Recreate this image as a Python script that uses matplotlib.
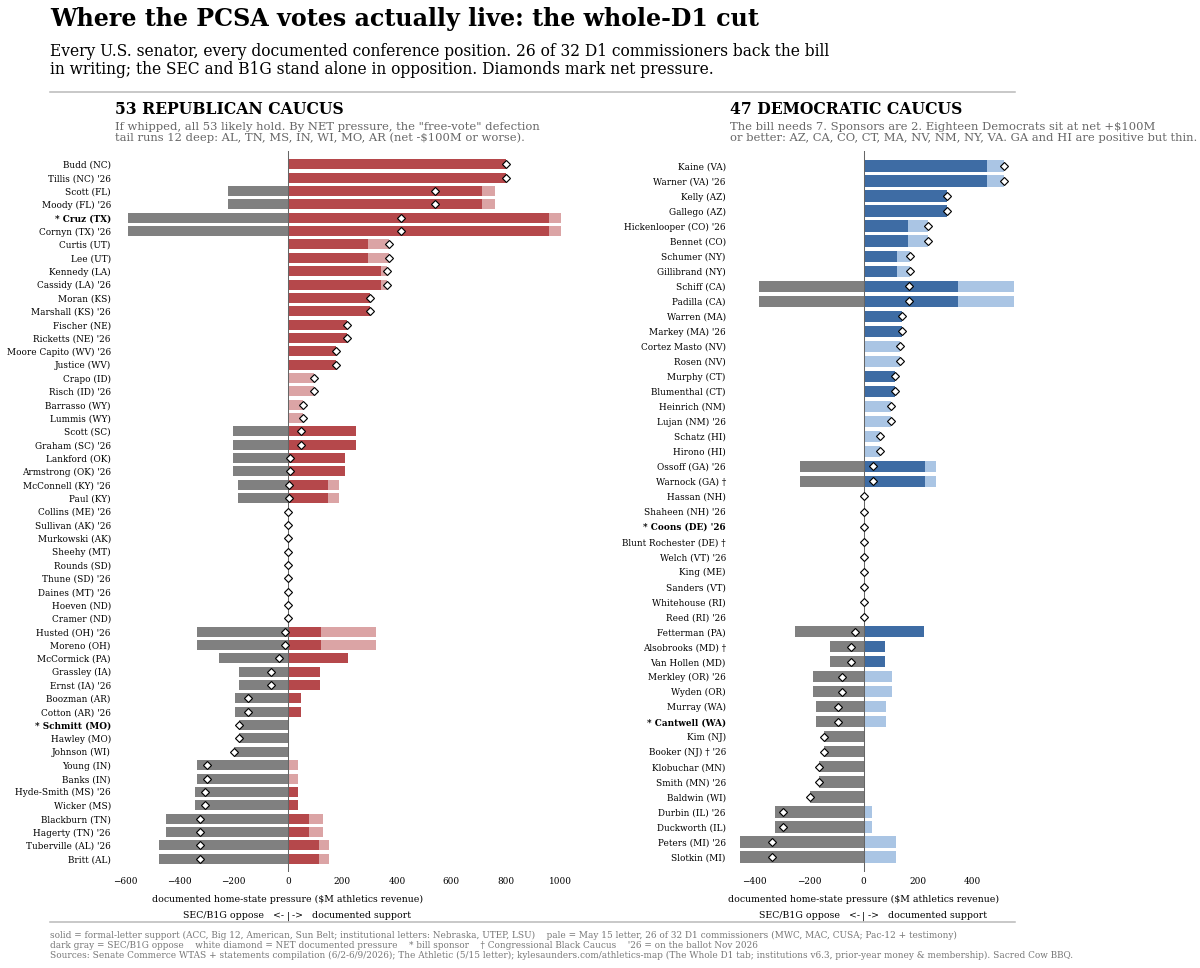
import matplotlib
matplotlib.use('Agg')
import matplotlib.pyplot as plt
import matplotlib.transforms as mtransforms
import numpy as np

plt.rcParams['font.family'] = ['DejaVu Serif']
plt.rcParams['axes.unicode_minus'] = True

# ---------------- data ----------------
rep_names = [
    "Budd (NC)", "Tillis (NC) '26", "Scott (FL)", "Moody (FL) '26", "* Cruz (TX)",
    "Cornyn (TX) '26", "Curtis (UT)", "Lee (UT)", "Kennedy (LA)", "Cassidy (LA) '26",
    "Moran (KS)", "Marshall (KS) '26", "Fischer (NE)", "Ricketts (NE) '26",
    "Moore Capito (WV) '26", "Justice (WV)", "Crapo (ID)", "Risch (ID) '26",
    "Barrasso (WY)", "Lummis (WY)", "Scott (SC)", "Graham (SC) '26", "Lankford (OK)",
    "Armstrong (OK) '26", "McConnell (KY) '26", "Paul (KY)", "Collins (ME) '26",
    "Sullivan (AK) '26", "Murkowski (AK)", "Sheehy (MT)", "Rounds (SD)", "Thune (SD) '26",
    "Daines (MT) '26", "Hoeven (ND)", "Cramer (ND)", "Husted (OH) '26", "Moreno (OH)",
    "McCormick (PA)", "Grassley (IA)", "Ernst (IA) '26", "Boozman (AR)", "Cotton (AR) '26",
    "* Schmitt (MO)", "Hawley (MO)", "Johnson (WI)", "Young (IN)", "Banks (IN)",
    "Hyde-Smith (MS) '26", "Wicker (MS)", "Blackburn (TN)", "Hagerty (TN) '26",
    "Tuberville (AL) '26", "Britt (AL)",
]
rep_oppose = [0, 0, 219, 219, 589, 589, 0, 0, 0, 0, 0, 0, 0, 0, 0, 0, 0, 0, 0, 0,
              203, 203, 204, 204, 184, 184, 0, 0, 0, 0, 0, 0, 0, 0, 0, 335, 335,
              255, 179, 179, 194, 194, 182, 182, 198, 333, 333, 342, 342, 449, 449,
              473, 473]
rep_solid = [803, 803, 712, 712, 961, 961, 294, 294, 343, 343, 300, 300, 215, 215,
             177, 177, 0, 0, 0, 0, 249, 249, 210, 210, 146, 146, 0, 0, 0, 0, 0, 0,
             0, 0, 0, 120, 120, 222, 118, 118, 46, 46, 0, 0, 0, 0, 0, 35, 35, 76, 76,
             114, 114]
rep_pale = [0, 0, 49, 49, 43, 43, 76, 76, 21, 21, 0, 0, 0, 0, 0, 0, 96, 96, 55, 55,
            0, 0, 0, 0, 42, 42, 0, 0, 0, 0, 0, 0, 0, 0, 0, 205, 205, 0, 0, 0, 0, 0,
            0, 0, 0, 35, 35, 0, 0, 51, 51, 35, 35]

dem_names = [
    "Kaine (VA)", "Warner (VA) '26", "Kelly (AZ)", "Gallego (AZ)",
    "Hickenlooper (CO) '26", "Bennet (CO)", "Schumer (NY)", "Gillibrand (NY)",
    "Schiff (CA)", "Padilla (CA)", "Warren (MA)", "Markey (MA) '26",
    "Cortez Masto (NV)", "Rosen (NV)", "Murphy (CT)", "Blumenthal (CT)",
    "Heinrich (NM)", "Lujan (NM) '26", "Schatz (HI)", "Hirono (HI)", "Ossoff (GA) '26",
    "Warnock (GA) \u2020", "Hassan (NH)", "Shaheen (NH) '26", "* Coons (DE) '26",
    "Blunt Rochester (DE) \u2020", "Welch (VT) '26", "King (ME)", "Sanders (VT)",
    "Whitehouse (RI)", "Reed (RI) '26", "Fetterman (PA)", "Alsobrooks (MD) \u2020",
    "Van Hollen (MD)", "Merkley (OR) '26", "Wyden (OR)", "Murray (WA)",
    "* Cantwell (WA)", "Kim (NJ)", "Booker (NJ) \u2020 '26", "Klobuchar (MN)",
    "Smith (MN) '26", "Baldwin (WI)", "Durbin (IL) '26", "Duckworth (IL)",
    "Peters (MI) '26", "Slotkin (MI)",
]
dem_oppose = [0, 0, 0, 0, 0, 0, 0, 0, 385, 385, 0, 0, 0, 0, 0, 0, 0, 0, 0, 0, 234, 234,
              0, 0, 0, 0, 0, 0, 0, 0, 0, 254, 124, 124, 185, 185, 176, 176, 145, 145,
              165, 165, 197, 327, 327, 455, 455]
dem_solid = [455, 455, 308, 308, 162, 162, 122, 122, 346, 346, 142, 142, 0, 0, 115, 115,
             0, 0, 0, 0, 224, 224, 0, 0, 0, 0, 0, 0, 0, 0, 0, 222, 79, 79, 0, 0, 0, 0,
             0, 0, 0, 0, 0, 0, 0, 0, 0]
dem_pale = [60, 60, 0, 0, 75, 75, 48, 48, 207, 207, 0, 0, 135, 135, 0, 0, 101, 101, 59,
            59, 44, 44, 0, 0, 0, 0, 0, 0, 0, 0, 0, 0, 0, 0, 104, 104, 83, 83, 0, 0, 0,
            0, 0, 31, 31, 118, 118]

rep_xticks = [-600, -400, -200, 0, 200, 400, 600, 800, 1000]
dem_xticks = [-400, -200, 0, 200, 400]

title = "Where the PCSA votes actually live: the whole-D1 cut"
subtitle = ("Every U.S. senator, every documented conference position. 26 of 32 D1 commissioners back the bill\n"
            "in writing; the SEC and B1G stand alone in opposition. Diamonds mark net pressure.")
rep_title = "53 REPUBLICAN CAUCUS"
rep_sub = ("If whipped, all 53 likely hold. By NET pressure, the \"free-vote\" defection\n"
           "tail runs 12 deep: AL, TN, MS, IN, WI, MO, AR (net -$100M or worse).")
dem_title = "47 DEMOCRATIC CAUCUS"
dem_sub = ("The bill needs 7. Sponsors are 2. Eighteen Democrats sit at net +$100M\n"
           "or better: AZ, CA, CO, CT, MA, NV, NM, NY, VA. GA and HI are positive but thin.")
footer = ("solid = formal-letter support (ACC, Big 12, American, Sun Belt; institutional letters: Nebraska, UTEP, LSU)    "
          "pale = May 15 letter, 26 of 32 D1 commissioners (MWC, MAC, CUSA; Pac-12 + testimony)\n"
          "dark gray = SEC/B1G oppose    white diamond = NET documented pressure    * bill sponsor    "
          "\u2020 Congressional Black Caucus    '26 = on the ballot Nov 2026\n"
          "Sources: Senate Commerce WTAS + statements compilation (6/2-6/9/2026); The Athletic (5/15 letter); "
          "kylesaunders.com/athletics-map (The Whole D1 tab; institutions v6.3, prior-year money & membership). Sacred Cow BBQ.")

RED, RED_PALE = '#b5484b', '#dba4a5'
BLUE, BLUE_PALE = '#3e6ca4', '#aac5e4'
GRAY = '#808080'

W, H = 1200, 968
DPI = 75
fig = plt.figure(figsize=(W / DPI, H / DPI), dpi=DPI)


def fx(px):
    return px / W


def fy(py):
    return 1 - py / H


def draw(ax, names, opp, solid, pale, c_solid, c_pale, xticks, ptitle, psub):
    n = len(names)
    y = np.arange(n)
    opp = np.array(opp, float)
    solid = np.array(solid, float)
    pale = np.array(pale, float)
    net = solid + pale - opp
    h = 0.75
    ax.barh(y, -opp, height=h, color=GRAY, zorder=2)
    ax.barh(y, solid, height=h, color=c_solid, zorder=2)
    ax.barh(y, pale, left=solid, height=h, color=c_pale, zorder=2)
    ax.axvline(0, color='#666666', lw=1.0, zorder=3)
    ax.plot(net, y, ls='none', marker='D', ms=5.5, mfc='white', mec='black',
            mew=1.1, zorder=4)
    ax.set_ylim(n, -1)
    ax.set_xlim(-opp.max() * 1.08, (solid + pale).max() * 1.08)
    ax.set_yticks(y)
    ax.set_yticklabels(names, fontsize=8.5)
    for lbl, nm in zip(ax.get_yticklabels(), names):
        if nm.startswith('*'):
            lbl.set_fontweight('bold')
    ax.set_xticks(xticks)
    ax.tick_params(axis='both', length=0, labelsize=8.5)
    ax.tick_params(axis='y', pad=4)
    ax.tick_params(axis='x', pad=5)
    for s in ax.spines.values():
        s.set_visible(False)

    trans = mtransforms.blended_transform_factory(ax.transData, fig.transFigure)
    ax.text(0, fy(899), 'documented home-state pressure ($M athletics revenue)',
            transform=trans, ha='center', va='center', fontsize=9)
    off_l = trans + mtransforms.ScaledTranslation(-4 / DPI, 0, fig.dpi_scale_trans)
    off_r = trans + mtransforms.ScaledTranslation(4 / DPI, 0, fig.dpi_scale_trans)
    ax.text(0, fy(916), 'SEC/B1G oppose   <-', transform=off_l, ha='right',
            va='center', fontsize=9)
    ax.text(0, fy(916), '|', transform=trans, ha='center', va='center', fontsize=9)
    ax.text(0, fy(916), '->   documented support', transform=off_r, ha='left',
            va='center', fontsize=9)

    tr = mtransforms.blended_transform_factory(ax.transAxes, fig.transFigure)
    ax.text(0, fy(110), ptitle, transform=tr, ha='left', va='center',
            fontsize=15, fontweight='bold')
    ax.text(0, fy(122), psub, transform=tr, ha='left', va='top',
            fontsize=11, color='#666666', linespacing=1.1)


ax_top, ax_bot = 151, 872
axL = fig.add_axes([fx(115), fy(ax_bot), fx(583 - 115), (ax_bot - ax_top) / H])
axR = fig.add_axes([fx(730), fy(ax_bot), fx(1026 - 730), (ax_bot - ax_top) / H])

draw(axL, rep_names, rep_oppose, rep_solid, rep_pale, RED, RED_PALE, rep_xticks,
     rep_title, rep_sub)
draw(axR, dem_names, dem_oppose, dem_solid, dem_pale, BLUE, BLUE_PALE, dem_xticks,
     dem_title, dem_sub)

fig.text(fx(50), fy(19), title, ha='left', va='center', fontsize=22.8,
         fontweight='bold')
fig.text(fx(50), fy(43), subtitle, ha='left', va='top', fontsize=14.9,
         linespacing=1.06)
fig.add_artist(plt.Line2D([fx(50), fx(1015)], [fy(92), fy(92)], color='#bbbbbb',
                          lw=1.5, transform=fig.transFigure))
fig.add_artist(plt.Line2D([fx(50), fx(1015)], [fy(922), fy(922)], color='#bbbbbb',
                          lw=1.5, transform=fig.transFigure))
fig.text(fx(50), fy(931), footer, ha='left', va='top', fontsize=8.5,
         color='#777777', linespacing=1.12)

fig.savefig('out.png', dpi=DPI)
